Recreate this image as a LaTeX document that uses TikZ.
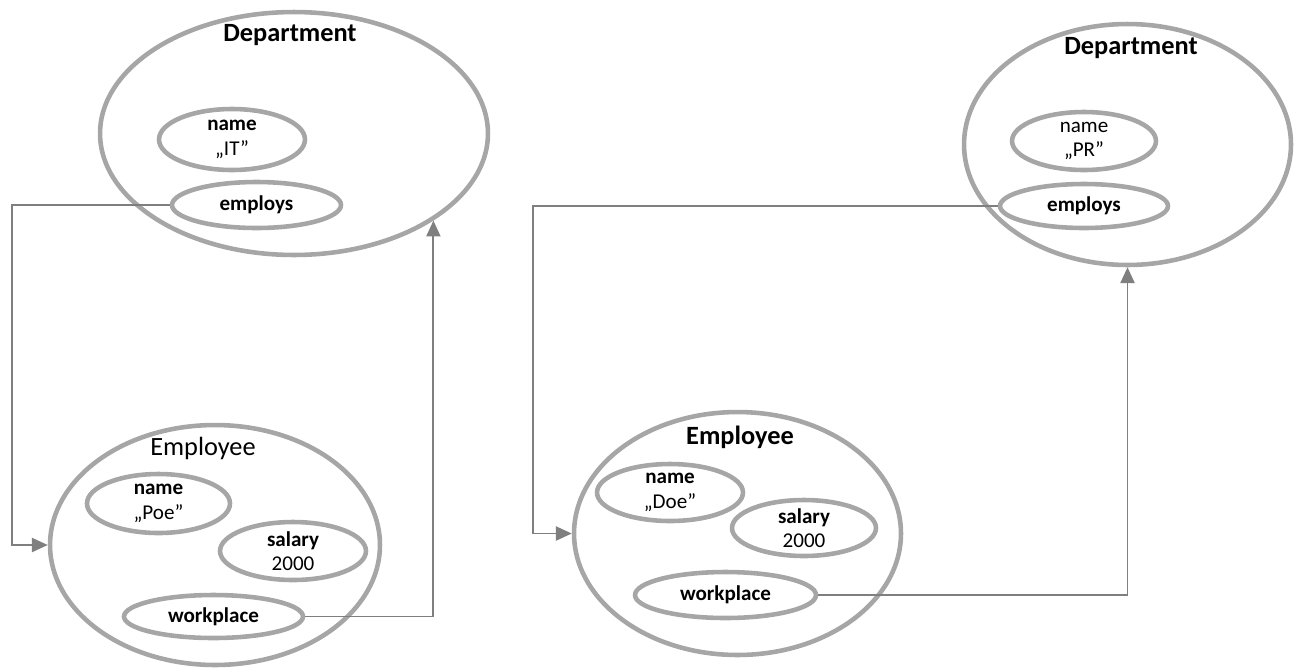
\documentclass[tikz,border=0pt]{standalone}
\usepackage{fontspec}
\setmainfont{Carlito}
\usetikzlibrary{shapes.geometric, arrows.meta, positioning}
\definecolor{ringgray}{HTML}{A6A6A6}
\definecolor{linkgray}{HTML}{7F7F7F}

\begin{document}
\begin{tikzpicture}[x=0.02cm, y=-0.02cm,
        obj/.style={ellipse, draw=ringgray, line width=2.6pt, inner sep=0pt},
        attr/.style={ellipse, draw=ringgray, line width=2.6pt, inner sep=0pt, align=center, font=\fontsize{12}{14}\selectfont},
        heading/.style={font=\fontsize{15}{17}\selectfont},
        link/.style={draw=linkgray, line width=1.1pt, -{Triangle[length=9pt, width=8pt]}}
    ]
        \useasboundingbox (0,0) rectangle (1300,670);

        % Left department
        \node[obj, minimum width=7.76cm, minimum height=4.86cm] (dptL) at (294,133.5) {};
        \node[heading] (dptLt) at (290,35) {\textbf{Department}};
        \node[attr, minimum width=2.92cm, minimum height=1.22cm] (nmL) at (232,139.5) {\textbf{name}\\„IT”};
        \node[attr, minimum width=3.38cm, minimum height=0.92cm] (empsL) at (256.5,205) {\textbf{employs}};

        % Left employee
        \node[obj, minimum width=6.6cm, minimum height=4.8cm] (empL) at (215,545) {};
        \node[heading] (empLt) at (203,448) {Employee};
        \node[attr, minimum width=2.86cm, minimum height=1.18cm] (poe) at (158.5,503.5) {\textbf{name}\\„Poe”};
        \node[attr, minimum width=2.92cm, minimum height=1.16cm] (salL) at (293,551) {\textbf{salary}\\2000};
        \node[attr, minimum width=3.58cm, minimum height=0.86cm] (wpL) at (213.5,616.5) {\textbf{workplace}};

        % Right department
        \node[obj, minimum width=6.54cm, minimum height=4.82cm] (dptR) at (1127.5,144.5) {};
        \node[heading] (dptRt) at (1131,48) {\textbf{Department}};
        \node[attr, minimum width=2.88cm, minimum height=1.16cm] (nmR) at (1084,141) {name\\„PR”};
        \node[attr, minimum width=3.36cm, minimum height=0.88cm] (empsR) at (1084,206) {\textbf{employs}};

        % Right employee
        \node[obj, minimum width=6.54cm, minimum height=4.86cm] (empR) at (737.5,533.5) {};
        \node[heading] (empRt) at (740,437) {\textbf{Employee}};
        \node[attr, minimum width=2.92cm, minimum height=1.14cm] (doe) at (670,492.5) {\textbf{name}\\„Doe”};
        \node[attr, minimum width=2.88cm, minimum height=1.12cm] (salR) at (804,528) {\textbf{salary}\\2000};
        \node[attr, minimum width=3.62cm, minimum height=0.92cm] (wpR) at (725.5,595) {\textbf{workplace}};

        % Links
        \draw[link] (empsL.west) -- ++(-158,0) |- (empL.west);
        \draw[link] (wpL.east) -| (dptL.-32);
        \draw[link] (empsR.west) -- ++(-465,0) |- (empR.west);
        \draw[link] (wpR.east) -| (dptR.south);
    \end{tikzpicture}
\end{document}
